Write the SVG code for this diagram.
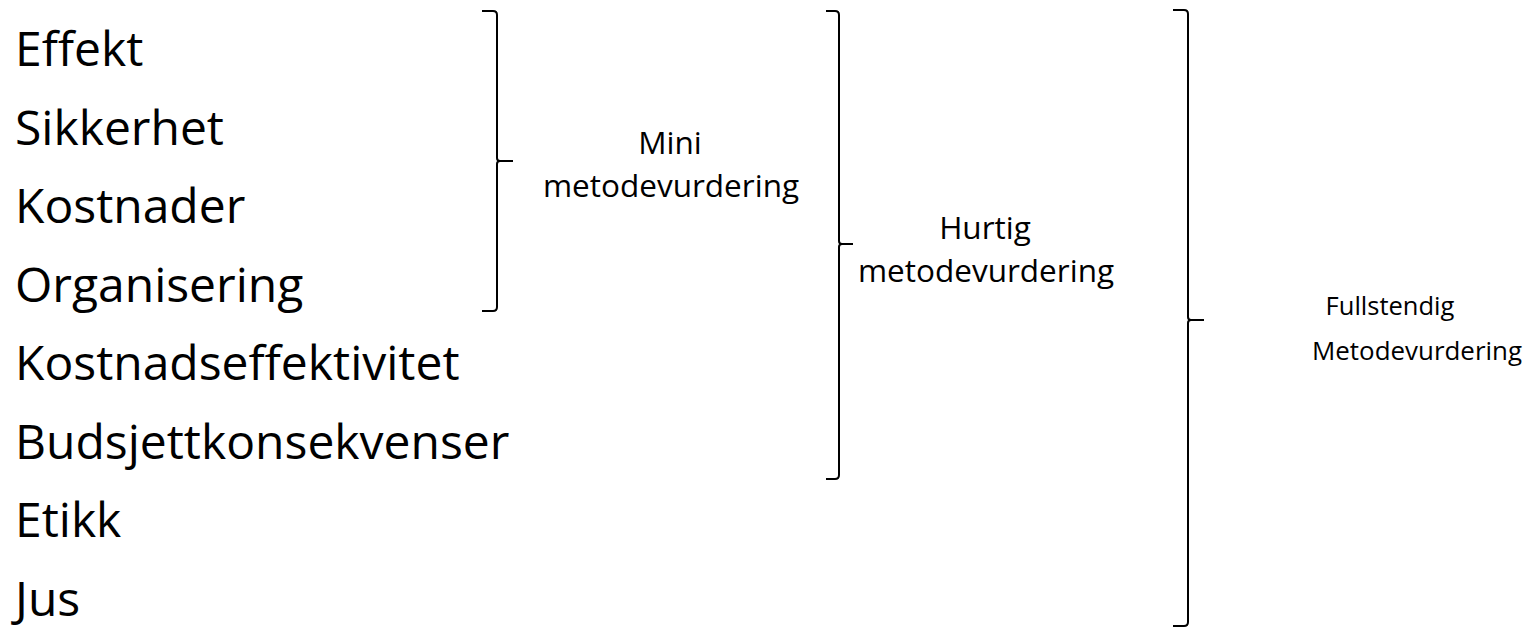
<svg xmlns="http://www.w3.org/2000/svg" width="1525" height="630" viewBox="0 0 1525 630">
<style>
.item{font-family:"Open Sans","Liberation Sans",sans-serif;font-size:48px;fill:#000}
.lbl{font-family:"Open Sans","Liberation Sans",sans-serif;font-size:31.5px;fill:#000}
.lbl2{font-family:"Open Sans","Liberation Sans",sans-serif;font-size:25.5px;fill:#000}
.brace{fill:none;stroke:#000;stroke-width:2;stroke-linejoin:round}
</style>
<rect width="1525" height="630" fill="#fff"/>
<g id="items">
<g id="effekt"><text class="item" x="15" y="66">Effekt</text></g>
<g id="sikkerhet"><text class="item" x="15" y="145">Sikkerhet</text></g>
<g id="kostnader"><text class="item" x="15" y="223">Kostnader</text></g>
<g id="organisering"><text class="item" x="15" y="302">Organisering</text></g>
<g id="kostnadseffektivitet"><text class="item" x="15" y="380">Kostnadseffektivitet</text></g>
<g id="budsjett"><text class="item" x="15" y="459">Budsjettkonsekvenser</text></g>
<g id="etikk"><text class="item" x="15" y="537">Etikk</text></g>
<g id="jus"><text class="item" x="15" y="616">Jus</text></g>
</g>
<g id="mini"><text class="lbl" x="670" y="154" text-anchor="middle">Mini</text><text class="lbl" x="671" y="197" text-anchor="middle">metodevurdering</text></g>
<g id="hurtig"><text class="lbl" x="985" y="239" text-anchor="middle">Hurtig</text><text class="lbl" x="986" y="282" text-anchor="middle">metodevurdering</text></g>
<g id="fullstendig"><text class="lbl2" x="1390" y="315" text-anchor="middle">Fullstendig</text><text class="lbl2" x="1312" y="360" textLength="210" lengthAdjust="spacingAndGlyphs">Metodevurdering</text></g>
<g id="connectors">
<path class="brace" d="M482,11 L493,11 Q497,11 497,15 L497,158 Q497,161 500,161 L513,161 M500,161 Q497,161 497,164 L497,307 Q497,311 493,311 L482,311"/>
<path class="brace" d="M826,11 L835,11 Q839,11 839,15 L839,241 Q839,244 842,244 L853,244 M842,244 Q839,244 839,247 L839,475 Q839,479 835,479 L826,479"/>
<path class="brace" d="M1173,10 L1184,10 Q1188,10 1188,14 L1188,317 Q1188,320 1191,320 L1204,320 M1191,320 Q1188,320 1188,323 L1188,622 Q1188,626 1184,626 L1173,626"/>
</g>
</svg>
